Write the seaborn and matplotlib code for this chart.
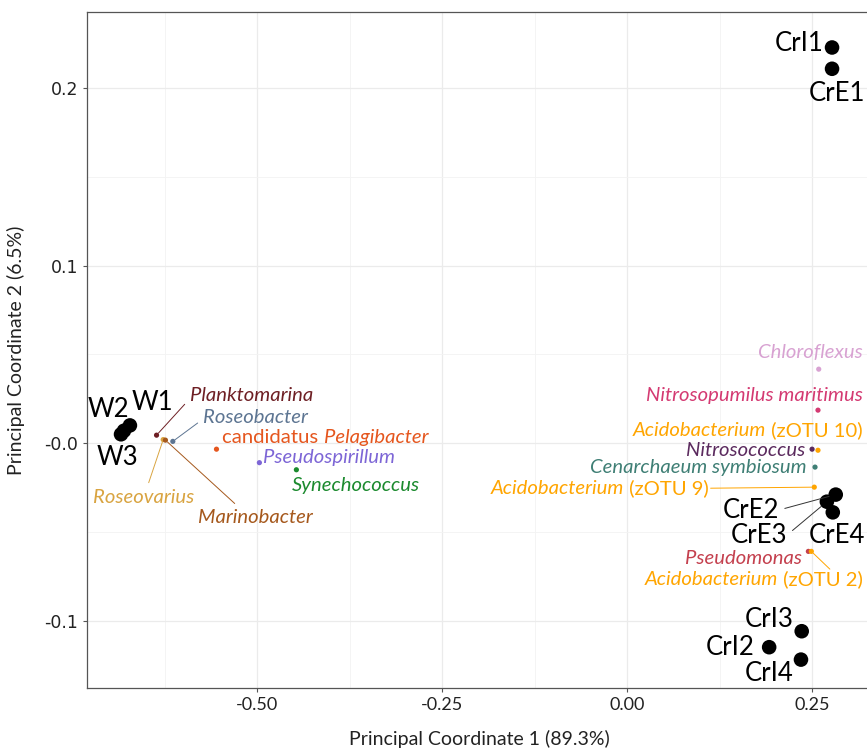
import matplotlib
matplotlib.use("Agg")
import matplotlib.pyplot as plt
import seaborn as sns
import pandas as pd

# Sample scores on the first two principal coordinates
sample_names = ["CrI1", "CrE1", "W1", "W2", "W3", "CrE2", "CrE3", "CrE4", "CrI3", "CrI2", "CrI4"]
sample_pc1 = [0.277, 0.277, -0.672, -0.680, -0.684, 0.282, 0.270, 0.278, 0.236, 0.192, 0.235]
sample_pc2 = [0.223, 0.211, 0.010, 0.007, 0.005, -0.029, -0.033, -0.039, -0.106, -0.115, -0.122]

# Taxa projected into the ordination space
taxa_names = ["Planktomarina", "Roseovarius", "Marinobacter", "Roseobacter",
              "candidatus Pelagibacter", "Pseudospirillum", "Synechococcus",
              "Chloroflexus", "Nitrosopumilus maritimus", "Acidobacterium (zOTU 10)",
              "Nitrosococcus", "Cenarchaeum symbiosum", "Acidobacterium (zOTU 9)",
              "Pseudomonas", "Acidobacterium (zOTU 2)"]
taxa_pc1 = [-0.636, -0.627, -0.624, -0.614, -0.555, -0.497, -0.447,
            0.259, 0.258, 0.258, 0.250, 0.254, 0.253, 0.245, 0.249]
taxa_pc2 = [0.0045, 0.002, 0.0017, 0.001, -0.0034, -0.011, -0.015,
            0.0417, 0.0186, -0.004, -0.0034, -0.0135, -0.0248, -0.061, -0.061]
taxa_colors = ["#6E1F24", "#D9A441", "#A5581C", "#5D7592", "#E5561E", "#7D66D6", "#1B8A2E",
               "#D8A2D2", "#D43A72", "#FFA500", "#5B2A5E", "#3F7F75", "#FFA500",
               "#C4404E", "#FFA500"]

x_ticks = [-0.50, -0.25, 0.00, 0.25]
x_tick_labels = ["-0.50", "-0.25", "0.00", "0.25"]
y_ticks = [0.2, 0.1, 0.0, -0.1]
y_tick_labels = ["0.2", "0.1", "-0.0", "-0.1"]

samples = pd.DataFrame({"name": sample_names, "PC1": sample_pc1, "PC2": sample_pc2})
taxa = pd.DataFrame({"name": taxa_names, "PC1": taxa_pc1, "PC2": taxa_pc2})
palette = dict(zip(taxa_names, taxa_colors))

sns.set_style("white")
plt.rcParams["font.family"] = ["Lato", "DejaVu Sans"]

fig = plt.figure(figsize=(8.67, 7.5), dpi=100)
ax = fig.add_axes([87 / 867, 62 / 750, 785 / 867, 676 / 750])

sns.scatterplot(data=samples, x="PC1", y="PC2", color="black", s=110,
                edgecolor="none", ax=ax, zorder=3)
sns.scatterplot(data=taxa, x="PC1", y="PC2", hue="name", palette=palette, s=14,
                edgecolor="none", ax=ax, legend=False, zorder=3)

ax.set_xlim(-0.730, 0.331)
ax.set_ylim(-0.138, 0.243)

# grid: major and minor lines like a light ggplot theme
ax.set_xticks(x_ticks)
ax.set_xticklabels(x_tick_labels, fontsize=13, color="#222222")
ax.set_yticks(y_ticks)
ax.set_yticklabels(y_tick_labels, fontsize=12.5, color="#222222", family="DejaVu Sans")
ax.set_xticks([-0.625, -0.375, -0.125, 0.125], minor=True)
ax.set_yticks([0.15, 0.05, -0.05], minor=True)
ax.grid(True, which="major", color="#EBEBEB", lw=0.9)
ax.grid(True, which="minor", color="#F3F3F3", lw=0.6)
ax.set_axisbelow(True)
ax.tick_params(which="major", length=3, color="#555555", left=True, bottom=True)
ax.tick_params(which="minor", length=0)
for sp in ax.spines.values():
    sp.set_color("#555555")
    sp.set_linewidth(0.9)

ax.set_xlabel("Principal Coordinate 1 (89.3%)", fontsize=14, color="#222222", labelpad=12)
ax.set_ylabel("Principal Coordinate 2 (6.5%)", fontsize=14, color="#222222", labelpad=14)

# sample labels (text position, connector flag)
sample_label_pos = {
    "CrI1": ((0.232, 0.2254), False), "CrE1": ((0.284, 0.197), False),
    "W1": ((-0.641, 0.0231), False), "W2": ((-0.701, 0.0192), False),
    "W3": ((-0.689, -0.0079), False), "CrE2": ((0.167, -0.0377), True),
    "CrE3": ((0.178, -0.0518), True), "CrE4": ((0.283, -0.0518), False),
    "CrI3": ((0.192, -0.0992), False), "CrI2": ((0.139, -0.1149), False),
    "CrI4": ((0.192, -0.1296), False),
}
for _, row in samples.iterrows():
    pos, seg = sample_label_pos[row["name"]]
    kw = {}
    if seg:
        kw["arrowprops"] = dict(arrowstyle="-", color="#333333", lw=0.7,
                                shrinkA=2, shrinkB=5, relpos=(1.0, 0.5))
    ax.annotate(row["name"], xy=(row["PC1"], row["PC2"]), xytext=pos,
                ha="center", va="center", fontsize=18.5, color="black", zorder=4, **kw)

# taxa labels: (text position, alignment, connector anchor on the label box)
taxa_label_pos = {
    "Planktomarina": ((-0.591, 0.027), "left", (0.0, 0.3)),
    "Roseobacter": ((-0.573, 0.0146), "left", (0.0, 0.4)),
    "candidatus Pelagibacter": ((-0.547, 0.0034), "left", None),
    "Pseudospirillum": ((-0.492, -0.0079), "left", None),
    "Synechococcus": ((-0.453, -0.0237), "left", None),
    "Roseovarius": ((-0.7216, -0.0304), "left", (0.5, 0.5)),
    "Marinobacter": ((-0.580, -0.0417), "left", (0.45, 0.5)),
    "Chloroflexus": ((0.319, 0.0513), "right", None),
    "Nitrosopumilus maritimus": ((0.319, 0.027), "right", None),
    "Acidobacterium (zOTU 10)": ((0.318, 0.0073), "right", None),
    "Nitrosococcus": ((0.2405, -0.0039), "right", None),
    "Cenarchaeum symbiosum": ((0.243, -0.0135), "right", None),
    "Acidobacterium (zOTU 9)": ((0.111, -0.0254), "right", (1.0, 0.5)),
    "Pseudomonas": ((0.2365, -0.0648), "right", None),
    "Acidobacterium (zOTU 2)": ((0.319, -0.0766), "right", (0.62, 1.0)),
}

fs = 14.6
for _, row in taxa.iterrows():
    name = row["name"]
    col = palette[name]
    pos, ha, anchor = taxa_label_pos[name]
    xy = (row["PC1"], row["PC2"])
    if name.startswith("candidatus"):
        t1 = ax.annotate("candidatus ", xy=xy, xytext=pos, ha="left", va="center",
                         fontsize=fs, color=col, zorder=4)
        ax.annotate("Pelagibacter", xy=(1, 0.5), xycoords=t1, ha="left", va="center",
                    fontsize=fs, color=col, style="italic", zorder=4)
    elif name.startswith("Acidobacterium"):
        genus, rest = name.split(" ", 1)
        t1 = ax.annotate(" " + rest, xy=xy, xytext=pos, ha="right", va="center",
                         fontsize=fs, color=col, zorder=4)
        ax.annotate(genus, xy=(0, 0.5), xycoords=t1, ha="right", va="center",
                    fontsize=fs, color=col, style="italic", zorder=4)
        if anchor is not None:
            ax.annotate("", xy=xy, xytext=anchor, textcoords=t1,
                        arrowprops=dict(arrowstyle="-", color=col, lw=0.7,
                                        shrinkA=1, shrinkB=2), zorder=2)
    else:
        kw = {}
        if anchor is not None:
            kw["arrowprops"] = dict(arrowstyle="-", color=col, lw=0.7, shrinkA=2,
                                    shrinkB=2, relpos=anchor)
        ax.annotate(name, xy=xy, xytext=pos, ha=ha, va="center", fontsize=fs,
                    color=col, style="italic", zorder=4, **kw)

fig.savefig("out.png", dpi=100)
